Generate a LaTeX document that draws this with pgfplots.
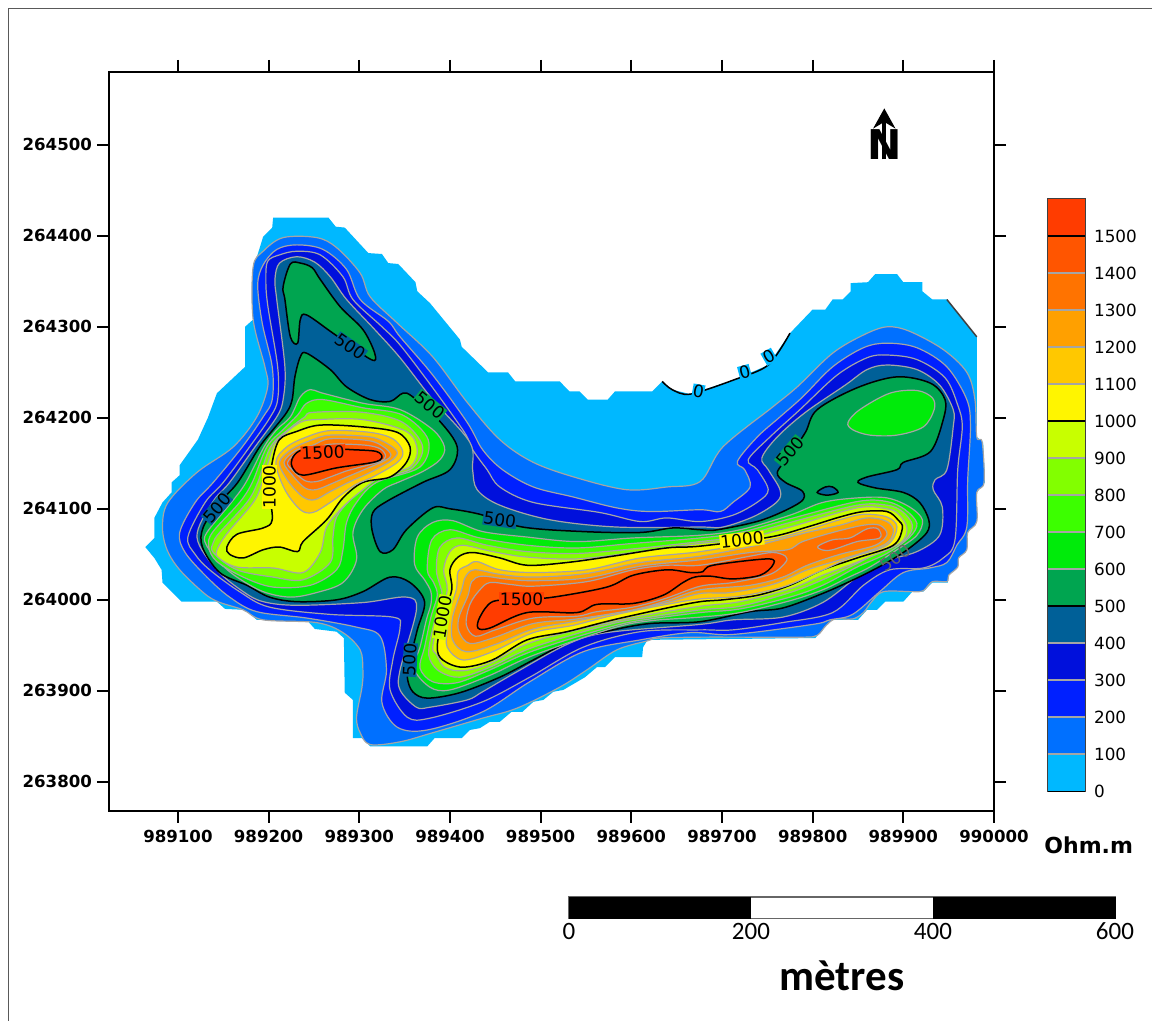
\documentclass[border=0pt]{standalone}
\usepackage{fontspec}
\usepackage{pgfplots}
\pgfplotsset{compat=1.18}
\usetikzlibrary{arrows.meta}
\setmainfont{DejaVu Sans}
\newfontfamily\carlito{Carlito}
\definecolor{c0}{RGB}{0,184,255}
\definecolor{c100}{RGB}{0,112,255}
\definecolor{c200}{RGB}{0,32,255}
\definecolor{c300}{RGB}{0,16,220}
\definecolor{c400}{RGB}{0,96,152}
\definecolor{c500}{RGB}{0,165,80}
\definecolor{c600}{RGB}{0,235,10}
\definecolor{c700}{RGB}{60,255,0}
\definecolor{c800}{RGB}{130,255,0}
\definecolor{c900}{RGB}{200,255,0}
\definecolor{c1000}{RGB}{255,245,0}
\definecolor{c1100}{RGB}{255,200,0}
\definecolor{c1200}{RGB}{255,160,0}
\definecolor{c1300}{RGB}{255,115,0}
\definecolor{c1400}{RGB}{255,85,0}
\definecolor{c1500}{RGB}{255,60,0}
\definecolor{cgl}{RGB}{165,165,165}
\tikzset{gl/.style={draw=cgl,line width=.6pt},bl/.style={draw=black,line width=.75pt}}
\newcommand{\lev}[3]{\addplot[fill=#1,#2,mark=none,smooth cycle,tension=.55] coordinates {#3};}
\newcommand{\clabel}[5]{\node[font=\fontsize{8.5}{10}\selectfont,rotate=#3,fill=#4,inner sep=.3pt] at (axis cs:#1,#2) {#5};}
\newcommand{\band}[4]{\addplot[fill=#1,draw=none,mark=none] coordinates {(0,#2)(1,#2)(1,#3)(0,#3)};\addplot[#4,mark=none] coordinates {(0,#2)(1,#2)};}
\begin{document}
\begin{tikzpicture}[x=1pt,y=1pt]
\useasboundingbox (0,0) rectangle (576,510.5);
\draw[black!65,line width=.8pt] (4.3,0) -- (4.3,506.3) -- (576,506.3);
\begin{axis}[name=map,at={(54.5pt,105pt)},anchor=south west,scale only axis,width=442.5pt,height=369.5pt,
 xmin=24,xmax=1000,ymin=768,ymax=1580,clip=false,axis line style={line width=1pt},
 tick style={black,line width=1pt},tick align=outside,major tick length=6pt,
 xtick={100,200,300,400,500,600,700,800,900,1000},
 xticklabels={989100,989200,989300,989400,989500,989600,989700,989800,989900,990000},
 ytick={800,900,1000,1100,1200,1300,1400,1500},
 yticklabels={263800,263900,264000,264100,264200,264300,264400,264500},
 tick label style={font=\bfseries\fontsize{8.3}{10}\selectfont},
 yticklabel style={xshift=1pt},
 xtick pos=both,ytick pos=both,xticklabel pos=bottom,yticklabel pos=left]
% level 0 : extent of the survey
\addplot[fill=c0,draw=none,mark=none] coordinates {(205,1420)(266,1420)(274,1410)(284,1409)(310,1381)(325,1380)(332,1370)(343,1369)(362,1349)(364,1339)(378,1326)(411,1286)(413,1278)(442,1250)(464,1250)(472,1240)(521,1240)(532,1229)(543,1229)(552,1220)(574,1220)(582,1229)(623,1229)(634,1240)(645,1231)(665,1226)(714,1242)(751,1258)(775,1293)(800,1319)(814,1319)(822,1330)(833,1330)(842,1339)(842,1348)(861,1349)(869,1358)(893,1358)(900,1349)(921,1349)(921,1339)(932,1330)(948,1330)(981,1289)(981,1179)(988,1173)(990,1129)(981,1118)(981,1086)(970,1074)(970,1055)(960,1046)(960,1036)(950,1027)(949,1019)(932,1019)(922,1009)(910,1009)(900,998)(880,998)(871,989)(860,989)(850,978)(819,978)(803,958)(618,956)(613,948)(612,937)(582,937)(571,926)(562,926)(549,915)(525,901)(514,899)(503,890)(492,888)(480,877)(468,877)(455,866)(444,866)(433,859)(422,857)(413,848)(383,848)(375,839)(312,839)(303,848)(293,848)(293,890)(284,898)(283,958)(275,965)(251,968)(242,978)(187,978)(174,989)(152,990)(143,998)(104,998)(83,1019)(82,1033)(74,1046)(64,1058)(74,1068)(74,1090)(83,1107)(93,1118)(93,1129)(102,1137)(102,1148)(122,1176)(133,1200)(143,1227)(174,1256)(174,1300)(183,1308)(185,1370)(194,1399)(204,1409)};
\lev{c100}{gl}{(216,1398)(253,1398)(275,1387)(301,1359)(312,1333)(342,1304)(381,1267)(419,1217)(455,1176)(492,1151)(540,1134)(595,1121)(639,1124)(676,1130)(701,1168)(756,1212)(783,1234)(822,1271)(856,1291)(882,1300)(907,1295)(944,1275)(970,1250)(979,1220)(981,1179)(987,1173)(989,1129)(981,1118)(981,1086)(971,1074)(970,1055)(961,1046)(960,1036)(950,1027)(948,1020)(932,1020)(922,1010)(910,1009)(878,1009)(865,998)(856,986)(844,979)(825,979)(815,972)(805,961)(790,959)(730,959)(676,959)(630,958)(618,955)(584,945)(551,923)(521,904)(474,881)(436,870)(381,854)(345,844)(312,841)(301,854)(297,871)(303,904)(304,923)(301,945)(282,964)(253,975)(194,978)(172,989)(144,998)(128,1008)(102,1033)(88,1055)(83,1080)(89,1107)(121,1140)(161,1168)(187,1201)(199,1234)(196,1256)(183,1308)(183,1366)(194,1383)}
\lev{c200}{gl}{(194,1368)(209,1385)(231,1390)(260,1385)(286,1363)(301,1330)(332,1306)(345,1289)(381,1247)(419,1195)(436,1165)(458,1143)(492,1124)(536,1113)(584,1101)(621,1097)(676,1099)(698,1097)(712,1107)(731,1124)(725,1143)(717,1152)(739,1179)(764,1201)(789,1223)(822,1256)(856,1277)(882,1282)(915,1277)(948,1256)(970,1220)(974,1190)(971,1132)(970,1080)(959,1060)(948,1041)(929,1035)(900,1030)(874,1009)(844,984)(819,978)(800,973)(712,962)(665,964)(610,956)(547,943)(488,910)(436,877)(375,857)(342,860)(325,887)(330,923)(323,960)(297,970)(242,980)(187,987)(157,1003)(132,1025)(108,1052)(102,1074)(119,1107)(139,1129)(171,1168)(194,1201)(204,1220)(204,1256)(193,1304)(188,1346)}
\lev{c300}{gl}{(199,1372)(212,1379)(231,1383)(257,1379)(282,1355)(293,1330)(324,1301)(345,1280)(381,1233)(416,1184)(425,1165)(441,1143)(455,1124)(492,1107)(565,1096)(610,1086)(639,1090)(676,1086)(712,1093)(740,1108)(751,1121)(739,1143)(729,1154)(753,1179)(786,1209)(827,1247)(860,1266)(882,1269)(915,1264)(946,1244)(960,1214)(965,1190)(960,1143)(957,1066)(944,1046)(922,1035)(885,1033)(856,1016)(822,986)(767,975)(712,967)(676,967)(610,965)(547,948)(488,915)(436,888)(378,870)(353,871)(334,901)(337,934)(345,970)(337,981)(268,984)(201,992)(168,1009)(135,1033)(119,1050)(111,1069)(130,1107)(150,1129)(179,1168)(202,1201)(210,1220)(210,1256)(199,1324)(197,1352)}
\lev{c400}{gl}{(212,1370)(231,1377)(251,1371)(268,1355)(286,1330)(317,1297)(345,1266)(381,1220)(422,1173)(425,1143)(430,1121)(455,1104)(510,1088)(584,1080)(676,1080)(701,1080)(736,1092)(761,1108)(764,1121)(751,1143)(744,1156)(761,1179)(792,1206)(836,1236)(860,1253)(882,1258)(915,1253)(940,1236)(955,1209)(955,1190)(948,1143)(935,1132)(933,1121)(943,1102)(940,1071)(915,1053)(878,1042)(849,1025)(811,997)(767,981)(712,978)(676,973)(573,964)(529,951)(474,921)(436,899)(419,890)(378,882)(363,882)(345,901)(345,923)(363,989)(352,1003)(304,997)(231,994)(194,998)(172,1009)(143,1033)(121,1069)(138,1107)(157,1129)(185,1168)(209,1201)(216,1220)(218,1256)(209,1330)(207,1352)}
\lev{c500}{bl}{(676,1077)(646,1079)(610,1074)(547,1075)(480,1080)(433,1094)(400,1100)(381,1101)(352,1077)(337,1055)(323,1053)(314,1077)(315,1096)(330,1108)(370,1129)(400,1143)(408,1168)(389,1196)(359,1223)(348,1227)(334,1218)(312,1220)(286,1234)(268,1253)(242,1271)(235,1267)(229,1245)(226,1220)(220,1206)(205,1187)(190,1168)(166,1129)(146,1107)(128,1080)(127,1058)(146,1030)(176,1016)(201,1003)(231,998)(275,1000)(304,1009)(334,1025)(356,1019)(372,998)(364,967)(356,934)(353,915)(359,899)(375,892)(411,898)(455,915)(492,934)(536,956)(580,967)(621,974)(676,976)(731,987)(767,991)(811,1007)(849,1024)(882,1041)(907,1057)(926,1074)(928,1088)(918,1107)(900,1118)(869,1123)(850,1129)(860,1135)(893,1143)(900,1151)(930,1163)(944,1198)(946,1220)(930,1238)(893,1245)(849,1233)(805,1209)(792,1184)(775,1159)(761,1140)(770,1129)(789,1119)(786,1107)(745,1088)(695,1077)}
\lev{c500}{bl}{(216,1344)(224,1369)(235,1370)(248,1365)(257,1352)(279,1322)(304,1297)(317,1271)(313,1264)(271,1293)(242,1313)(235,1308)(232,1282)(224,1289)(218,1330)}
\lev{c400}{bl}{(805,1118)(814,1124)(822,1124)(828,1118)(816,1115)}
\lev{c600}{gl}{(839,1195)(852,1209)(885,1227)(915,1230)(932,1222)(934,1209)(922,1190)(893,1181)(863,1181)(844,1187)}
% west lobe
\lev{c600}{gl}{(246,1231)(260,1227)(304,1216)(345,1209)(381,1187)(394,1168)(389,1154)(370,1141)(345,1130)(326,1121)(304,1099)(293,1074)(297,1044)(282,1019)(253,1008)(224,1003)(194,1009)(165,1025)(146,1041)(131,1061)(132,1074)(159,1107)(175,1129)(195,1168)(209,1187)(224,1201)(235,1223)}
\lev{c700}{gl}{(260,1220)(304,1211)(348,1203)(376,1176)(367,1146)(319,1129)(297,1107)(286,1085)(282,1055)(275,1033)(246,1016)(205,1014)(172,1025)(143,1042)(134,1058)(138,1074)(168,1107)(182,1129)(198,1168)(216,1187)(232,1203)(242,1216)}
\lev{c800}{gl}{(249,1206)(304,1206)(348,1195)(370,1168)(356,1143)(312,1132)(290,1110)(275,1091)(271,1069)(268,1041)(238,1022)(205,1025)(165,1033)(139,1052)(139,1063)(146,1074)(176,1107)(188,1129)(202,1168)(224,1189)(240,1201)}
\lev{c900}{gl}{(253,1198)(304,1198)(352,1185)(364,1165)(356,1146)(326,1137)(304,1121)(282,1102)(264,1080)(257,1052)(238,1030)(205,1035)(165,1036)(144,1047)(144,1057)(155,1074)(183,1107)(193,1129)(205,1168)(216,1181)(235,1195)}
\lev{c1000}{bl}{(257,1192)(304,1190)(342,1184)(356,1168)(352,1151)(334,1135)(304,1129)(282,1112)(264,1088)(238,1064)(232,1053)(212,1058)(194,1055)(172,1046)(157,1050)(154,1058)(165,1072)(194,1079)(204,1088)(201,1121)(204,1151)(212,1176)(231,1185)}
\lev{c1100}{gl}{(208,1151)(220,1168)(242,1179)(268,1186)(312,1184)(337,1177)(348,1163)(342,1151)(315,1135)(295,1126)(268,1107)(249,1096)(235,1099)(218,1121)}
\lev{c1200}{gl}{(212,1151)(226,1166)(246,1175)(268,1181)(312,1179)(332,1171)(342,1162)(334,1152)(308,1138)(290,1130)(268,1119)(251,1110)(238,1113)(222,1130)}
\lev{c1300}{gl}{(217,1151)(230,1164)(249,1170)(268,1177)(310,1175)(327,1168)(335,1159)(328,1153)(303,1142)(284,1134)(268,1127)(252,1121)(240,1123)(227,1136)}
\lev{c1400}{gl}{(221,1151)(232,1162)(251,1166)(268,1171)(306,1170)(323,1166)(329,1158)(323,1152)(298,1145)(284,1141)(268,1135)(253,1130)(240,1131)(226,1143)}
\lev{c1500}{bl}{(227,1157)(238,1165)(268,1166)(292,1165)(319,1163)(325,1156)(315,1151)(275,1145)(238,1137)(226,1146)}
% central ridge
\lev{c600}{gl}{(364,1069)(381,1085)(403,1087)(436,1075)(485,1069)(540,1064)(602,1068)(676,1071)(720,1077)(775,1093)(811,1107)(849,1112)(882,1112)(907,1102)(921,1088)(915,1071)(893,1055)(863,1036)(838,1024)(811,1011)(775,999)(720,986)(676,981)(621,977)(580,969)(492,939)(444,917)(400,901)(378,904)(360,925)(367,948)(374,978)(379,995)(379,1009)(372,1022)(361,1039)}
\lev{c700}{gl}{(380,1066)(400,1077)(433,1068)(485,1060)(540,1057)(602,1062)(676,1068)(720,1074)(775,1089)(849,1108)(882,1108)(902,1099)(915,1084)(907,1069)(882,1051)(849,1036)(811,1016)(775,1003)(720,990)(676,986)(621,979)(580,971)(492,944)(444,923)(408,909)(381,910)(367,925)(372,948)(379,981)(386,1005)(382,1019)(375,1033)}
\lev{c800}{gl}{(389,1058)(408,1068)(441,1060)(485,1053)(540,1051)(602,1056)(676,1064)(720,1070)(775,1085)(849,1104)(882,1104)(899,1097)(910,1082)(902,1066)(874,1053)(849,1040)(811,1022)(775,1008)(720,993)(676,989)(621,981)(580,974)(492,948)(444,926)(411,915)(389,921)(378,934)(377,948)(384,981)(391,1005)(389,1016)(385,1033)}
\lev{c900}{gl}{(400,1053)(414,1060)(447,1053)(485,1047)(540,1045)(602,1052)(676,1062)(720,1066)(775,1080)(849,1101)(882,1100)(895,1094)(904,1079)(896,1062)(853,1043)(811,1027)(775,1012)(720,998)(676,993)(621,984)(580,976)(492,954)(444,930)(414,922)(394,926)(385,940)(381,948)(388,981)(397,1011)(393,1033)}
\lev{c1000}{bl}{(409,1047)(425,1052)(455,1046)(485,1038)(529,1041)(580,1048)(639,1057)(676,1059)(753,1069)(794,1080)(830,1091)(856,1097)(882,1097)(894,1088)(899,1079)(889,1060)(849,1046)(811,1033)(775,1016)(739,1005)(701,1000)(676,998)(639,991)(580,978)(529,965)(485,956)(447,934)(414,926)(392,934)(386,948)(392,981)(402,1011)(400,1033)}
\lev{c1100}{gl}{(420,1038)(430,1042)(455,1033)(492,1030)(551,1033)(610,1046)(676,1053)(753,1066)(794,1077)(830,1088)(856,1094)(882,1091)(893,1080)(882,1060)(841,1046)(805,1030)(767,1014)(720,1004)(676,1001)(639,995)(584,984)(536,972)(492,964)(447,943)(414,934)(397,948)(397,967)(397,981)(407,1011)(409,1031)}
\lev{c1200}{gl}{(427,1033)(455,1028)(492,1025)(551,1029)(610,1041)(676,1048)(739,1060)(794,1074)(830,1082)(860,1090)(882,1086)(889,1075)(878,1060)(830,1044)(794,1033)(756,1017)(709,1008)(676,1007)(639,997)(584,986)(536,976)(492,968)(450,951)(418,943)(403,956)(403,981)(413,1011)(417,1025)}
\lev{c1300}{gl}{(435,1026)(461,1023)(492,1021)(551,1024)(610,1037)(676,1044)(731,1052)(772,1055)(789,1064)(822,1074)(856,1082)(874,1082)(882,1072)(869,1060)(830,1050)(794,1038)(767,1025)(731,1016)(676,1011)(639,999)(602,989)(540,979)(492,974)(450,959)(422,952)(410,965)(410,981)(420,1005)(424,1020)}
\lev{c1400}{gl}{(444,1019)(466,1017)(492,1015)(551,1020)(602,1033)(639,1038)(676,1038)(731,1048)(756,1052)(770,1048)(770,1041)(753,1028)(712,1019)(676,1015)(639,1002)(602,992)(562,987)(540,982)(492,980)(450,967)(428,960)(418,973)(422,995)(433,1011)}
\lev{c1400}{gl}{(806,1059)(822,1066)(841,1068)(860,1078)(872,1078)(874,1068)(849,1064)(822,1055)(810,1055)}
\lev{c1500}{bl}{(447,998)(433,981)(431,969)(444,969)(485,986)(540,986)(562,995)(602,996)(635,1005)(657,1019)(670,1025)(687,1026)(712,1023)(742,1027)(756,1038)(751,1045)(690,1038)(679,1031)(665,1030)(639,1033)(602,1027)(573,1014)(514,1003)(477,1000)}
% zero contour along the edge
\addplot[black,line width=.75pt,mark=none,smooth] coordinates {(634,1240)(645,1231)(665,1226)(714,1242)(751,1258)(775,1293)};
\addplot[black!75,line width=.75pt,mark=none] coordinates {(948,1330)(981,1289)};
% contour labels
\clabel{260}{1162}{3}{c1500}{1500}
\clabel{201}{1124}{90}{c1000}{1000}
\clabel{290}{1278}{-35}{c400}{500}
\clabel{378}{1214}{-40}{c500}{500}
\clabel{455}{1088}{-8}{c400}{500}
\clabel{143}{1101}{50}{c400}{500}
\clabel{356}{934}{87}{c400}{500}
\clabel{479}{1001}{0}{c1500}{1500}
\clabel{392}{981}{80}{c900}{1000}
\clabel{722}{1066}{6}{c1000}{1000}
\clabel{775}{1163}{50}{c500}{500}
\node[font=\fontsize{8.5}{10}\selectfont,rotate=35,text=black!60] at (axis cs:891,1046) {500};
\clabel{674}{1229}{-10}{c0}{0}
\clabel{725}{1250}{15}{c0}{0}
\clabel{752}{1267}{30}{c0}{0}
% north arrow
\draw[-{Stealth[length=10pt,width=11pt]},line width=2.2pt] (axis cs:879,1484) -- (axis cs:879,1540);
\node[font=\bfseries\fontsize{20.5}{22}\selectfont,inner sep=0pt] at (axis cs:879,1500) {N};
\end{axis}
% colour scale
\begin{axis}[at={(524pt,115pt)},anchor=south west,scale only axis,width=18.5pt,height=296pt,
 xmin=0,xmax=1,ymin=0,ymax=1600,xtick=\empty,ytick={0,100,...,1500},yticklabel pos=right,
 major tick length=0pt,axis line style={black!75,line width=.8pt},
 /pgf/number format/assume math mode=true,/pgf/number format/set thousands separator={},
 tick label style={font=\fontsize{8.4}{10}\selectfont},yticklabel style={xshift=1pt},clip=false]
\band{c0}{0}{100}{black}
\band{c100}{100}{200}{gl}
\band{c200}{200}{300}{gl}
\band{c300}{300}{400}{gl}
\band{c400}{400}{500}{gl}
\band{c500}{500}{600}{bl}
\band{c600}{600}{700}{gl}
\band{c700}{700}{800}{gl}
\band{c800}{800}{900}{gl}
\band{c900}{900}{1000}{gl}
\band{c1000}{1000}{1100}{bl}
\band{c1100}{1100}{1200}{gl}
\band{c1200}{1200}{1300}{gl}
\band{c1300}{1300}{1400}{gl}
\band{c1400}{1400}{1500}{gl}
\band{c1500}{1500}{1600}{bl}
\node[font=\bfseries\fontsize{11}{13}\selectfont] at (axis cs:1.1,-146) {Ohm.m};
\end{axis}
% scale bar
\begin{axis}[at={(284.5pt,51.5pt)},anchor=south west,scale only axis,width=273pt,height=10.5pt,
 xmin=0,xmax=600,ymin=0,ymax=1,xtick={0,200,400,600},ytick=\empty,major tick length=0pt,
 axis line style={black!60,line width=.6pt},clip=false,
 /pgf/number format/assume math mode=true,
 tick label style={font=\carlito\fontsize{12.5}{14}\selectfont},xticklabel style={yshift=1pt}]
\addplot[fill=black,draw=black,mark=none] coordinates {(0,0)(200,0)(200,1)(0,1)};
\addplot[fill=white,draw=black!60,mark=none] coordinates {(200,0)(400,0)(400,1)(200,1)};
\addplot[fill=black,draw=black,mark=none] coordinates {(400,0)(600,0)(600,1)(400,1)};
\node[font=\carlito\bfseries\fontsize{21.5}{24}\selectfont] at (axis cs:300,-2.76) {mètres};
\end{axis}
\end{tikzpicture}
\end{document}
